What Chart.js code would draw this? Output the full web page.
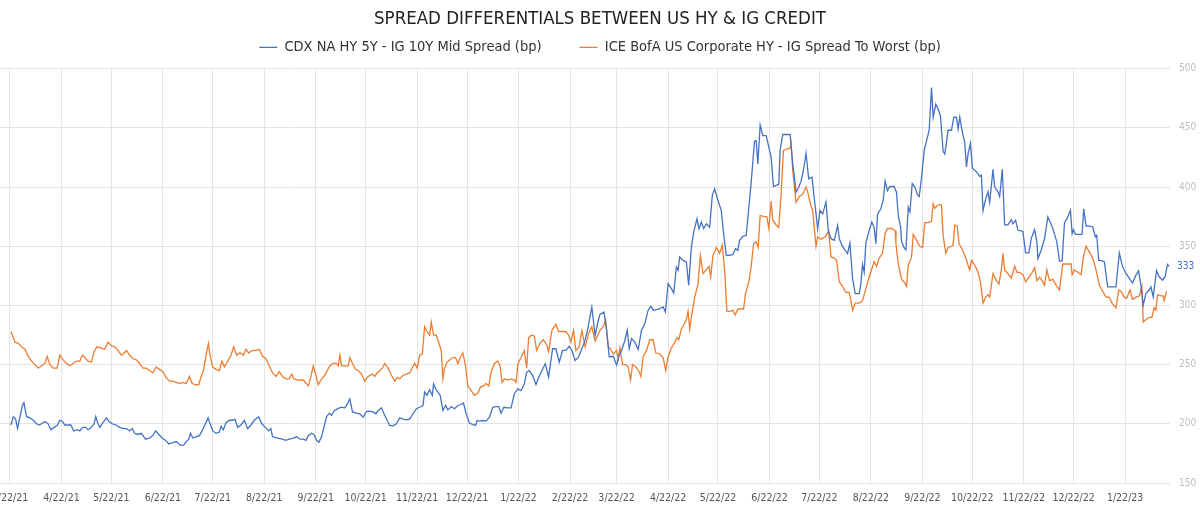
<!DOCTYPE html>
<html>
<head>
<meta charset="utf-8">
<title>Spread differentials between US HY & IG credit</title>
<script src="https://cdn.jsdelivr.net/npm/chart.js@4.4.1/dist/chart.umd.min.js"></script>
<style>
  html, body { margin: 0; padding: 0; background: #fff; }
  #wrap { position: relative; width: 1200px; height: 506px; }
</style>
</head>
<body>
<div id="wrap"><canvas id="spread-chart"></canvas></div>
<script>
// x values are days since 3/22/21
const tickDays = [0, 31, 61, 92, 122, 153, 184, 214, 245, 275, 306, 337, 365, 396, 426, 457, 487, 518, 549, 579, 610, 640, 671];
const tickLabels = ['3/22/21', '4/22/21', '5/22/21', '6/22/21', '7/22/21', '8/22/21', '9/22/21', '10/22/21', '11/22/21', '12/22/21',
    '1/22/22', '2/22/22', '3/22/22', '4/22/22', '5/22/22', '6/22/22', '7/22/22', '8/22/22', '9/22/22', '10/22/22', '11/22/22', '12/22/22', '1/22/23'];

// CDX NA HY 5Y - IG 10Y
const cdxDays = [
    0.6,2,3.4,4.6,6,7.4,8.4,10,12,14,
    16,17.6,19,21,23,24.6,26.6,28.6,30,31.6,
    33,35,36.6,38.4,40.4,42,43.6,45.6,47,49,
    50.6,51.6,53,54,56,58,59.6,61.6,64,66,
    68.4,70,72,73.6,75,77,79,81.6,84,86,
    87.6,89.6,91.6,93.6,95.6,97.6,100,102.4,104.6,106,
    107.6,108.6,110,112,114,115.6,117.6,119.2,120.4,122,
    124,126,127,128.4,130,132,134,135.4,137,139,
    141,143,145,147,149.6,151.6,153.6,155.6,157,158,
    161,164,166,168,
    170.5,172.5,174.5,176.5,178.1,179.5,181.5,182.9,184.5,185.9,
    187.5,188.9,190.5,192.1,193.5,195.1,197.5,199.5,201.5,203.1,
    204.5,206.1,208.5,210.5,212.5,214.5,216.5,218.5,220.1,221.5,
    223.5,225.5,228.5,230.5,232.5,234.5,236.5,238.5,240.5,242.5,
    244.5,246.5,248.5,249.5,250.9,252.5,254.1,254.9,256.1,257.5,
    258.9,260.5,262.1,263.5,265.5,267.5,269.5,271.5,272.9,274.5,
    276.5,278.5,280.1,281.1,282.5,284.5,286.5,288.5,290.5,292.5,
    294.1,295.5,297.1,299.5,301.5,303.5,305.5,307.5,309.5,310.9,
    312.5,314.5,316.5,318.1,320.1,322.1,324.1,326.5,328.5,330.5,
    332.5,334.5,336.5,338.1,340.1,342.1,344.1,345.7,347.5,350.1,
    352.1,354.1,
    355,357.4,359,360.6,363,365,366.6,368,370,371.4,
    372.6,374,376,378,380,382,384,385.6,387,389,
    391,393,394.4,396,398,399.4,401,402,403,405,
    407,408.4,410,411.4,413.4,414.6,416,417.4,419,421,
    422.6,424,426,428,429.4,431,433,435,436.6,438,
    439,441,443,444.6,446,448,449,450,451.4,453,
    455,456.6,458,459.4,461,462.6,463.4,465,467,469.4,
    471,473,474.6,476,477.4,479,480.6,482.6,484,486,
    487.4,489,491,492.4,494,496,498,499,500.6,502.6,
    504,505.4,507,508.6,511,512,513,514,515,517,
    518.6,520,521,522,524,525.4,526.6,528,529.4,532,
    533.4,
    534.5,535.9,536.5,537.9,539.1,540.5,541.5,542.9,544.5,545.9,
    547.1,548.5,550.1,551.5,553.1,554.5,555.5,557.1,558.5,559.9,
    561.5,562.5,564.5,566.5,567.9,569.5,570.5,571.5,573.1,574.5,
    575.5,576.5,577.9,579.1,581.5,583.5,584.5,585.5,587.1,588.5,
    589.5,591.5,592.5,594.5,595.5,597.1,598.5,600.5,602.5,603.5,
    605.1,606.5,608.5,609.5,611.1,613.1,614.5,616.5,617.9,618.5,
    620.5,622.5,624.5,625.9,627.5,629.9,631.5,633.1,634.5,636.5,
    638.1,639.1,639.9,641.1,643.1,645.1,646.1,647.5,649.5,651.5,
    653.1,653.9,655.1,656.5,658.5,660.5,662.5,665.5,667.5,669.5,
    671.5,673.5,675.5,677.5,679.1,680.5,681.9,683.5,685.5,686.5,
    687.9,689.9,691.5,693.5,695.1,696.5,697.5
];
const cdxBp = [
    199,206,204,196,206,215,218,206,205,203,
    200,199,200,202,200,195,197,199,203,202,
    199,199,199,194,195,194,197,197,195,197,
    200,206,200,197,201,205,202,200,199,197,
    196,196,194,196,192,191,192,187,188,190,
    194,191,188,186,183,184,185,182,182,185,
    187,192,188,189,190,194,200,205,200,194,
    192,193,198,195,201,203,203,204,197,199,
    203,196,199,203,206,200,197,194,196,189,
    188,187,186,187,
    188,189,187,187,186,190,192,191,186,184.5,
    189,197,206,209,207,211,213,214,213.5,217,
    221,210,209,208.5,205.6,210.4,210.7,210,208.5,211,
    213.5,207,198.6,198.3,200,205,204,203.4,204,208.5,
    212.7,214,215.5,226.8,224,228.7,224,233.8,229.6,226.8,
    224,211.3,215.5,211.8,214.6,212.7,215.5,216.3,217.5,208.5,
    200.6,199.4,198.6,202.8,202.3,202.8,202.3,205.6,214,214.6,
    214.6,209,214,213.5,213.5,225.4,229.6,228,233.8,243.7,
    245,240.8,233.2,239.4,245,250.7,239.4,263.4,263.4,252,
    262,262,265.4,262,253.5,256.3,263.4,269,278.9,298.6,
    274.6,287.9,
    292.5,294.5,279,256.5,257,249.5,258,262,270.6,279,
    263.5,272,269,262.7,279,284.6,296,299.3,296,296.4,
    297.3,298.7,294.5,318.4,314.2,310.5,332.5,329.7,341,338,
    336.7,317,349.3,362,373.2,364.8,370.4,364.8,369,366,
    393,398.5,388.7,380.3,360.6,342.3,342.3,343.1,348,346.5,
    355,358.3,359.2,383,404.2,438.8,439.3,419.6,452.5,443.5,
    443.5,433.7,425.3,400.5,401.4,402.2,431.4,444.4,444.4,444.4,
    419.6,395.7,399.9,405,414,428.6,407,408.4,390,364.8,
    380.3,377.4,387.3,363.4,356.4,355,367.6,356.4,350.7,346.5,
    343.7,352.7,322.6,310,310,318.4,334.7,328.2,352.7,363.4,
    370.4,365.6,352.1,376.9,381.7,388.7,405,397,400.5,400.5,
    395.7,
    376,366,354,349,347,383,379,403,400,394,
    392,408,431,439,448,484,459,470,466,460,
    430,428,448,448,459,459,449,459,446,438,
    417,428,437,416,413,409,410,380,390,396,
    387,415,400,396,392,415,368,368,372.5,369,
    372,363.5,363,362.6,344.4,344.4,356.5,364,353.7,339.6,
    346.6,356.5,374.7,370.5,364.9,353.7,337.4,337.4,369.7,374.7,
    380.3,360.7,364,360,360,360,381.7,367,367,366.3,
    358,359.3,338,338,336.8,315.7,315.7,315.7,344.4,332.6,
    327,322.8,319,325.6,329.3,317,300.3,310,313,315.7,
    307.3,329.3,324.2,321.3,324.7,334.6,333
];

// ICE BofA US Corporate HY - IG spread to worst
const iceDays = [
    0.6,2,3,5,7,9,11,13,15,17,
    19,21,22.4,24,26,28.4,30,32,34,36,
    38,40,42,43.6,45,47,49,50.6,52.4,55,
    57,59,61,63,65,67,69,70,72,74,
    76,78,80,82,84,86,88,90,92,94,
    96,98,100,102,104,106,108,109.6,112,113.6,
    115,116.4,118,119.4,120.4,122,124,126,127.6,129,
    131,133,134.6,136.4,138.4,140.4,142,143.6,146,148.4,
    150,152,154,156,158,160,162,164,166,168,
    169.5,170.9,173.5,176.5,179.5,180.9,182.5,184.1,185.5,187.5,
    189.5,190.9,192.5,194.5,196.5,197.5,198.5,199.5,201.5,203.5,
    204.5,206.1,207.9,209.5,211.5,213.5,214.9,216.5,218.1,219.5,
    220.9,222.5,224.1,225.5,227.5,229.5,231.5,232.9,234.5,236.5,
    238.5,240.5,241.9,243.5,245.1,246.5,248.1,249.5,250.9,252.5,
    253.5,254.9,256.5,258.1,259.5,260.5,261.5,262.9,264.5,266.5,
    268.1,269.5,270.9,272.5,274.1,275.5,277.5,279.5,281.5,283.1,
    284.9,286.5,288.1,289.5,291.5,293.5,294.9,296.1,297.5,299.5,
    301.5,303.5,304.5,305.7,307.5,309.5,310.9,312.1,314.1,315.5,
    316.9,318.9,320.9,322.9,324.1,326.1,328.5,330.1,332.1,334.5,
    336.1,337.5,339.1,340.5,342.5,344.1,346.1,348.1,350.1,352.1,
    354.1,
    355,357,358.4,360,361,363,365,366,367,368.6,
    370.6,372,373.4,374.6,376.6,378.6,379.6,381,383,385,
    387,388.6,391,393,394.6,396,398,400,401.4,402.4,
    404,406,407,408,409,410,412,414,415.4,417,
    419,420.6,421.6,423,425,427,428.6,430,431.4,433.4,
    435,436.4,438,440,441.4,442.6,444.6,446,447.4,449,
    450.2,451.4,454,455.4,456.6,458,459,461,462.6,464,
    465.4,467.4,469.4,470,471,473,475,477,479,480,
    481.4,483,485,486,488,490.6,492.6,494,496,497.4,
    499,501,503,505,506,507,508.6,511,513,515,
    517,518.6,520,521.4,523,525,526.6,528,530.6,532.6,
    533.1,534.5,536.5,538.5,539.5,540.5,542.5,543.5,545.5,547.5,
    549.1,550.5,552.5,554.5,555.5,556.5,558.5,560.5,561.5,563.1,
    564.5,566.5,567.5,568.5,569.9,571.1,573.1,575.1,576.5,577.5,
    578.5,580.5,582.5,583.9,585.5,587.1,588.5,589.5,591.5,593.5,
    595.1,596.5,597.5,598.5,600.5,602.5,604.5,605.9,607.5,609.5,
    611.1,613.1,615.1,616.5,617.9,619.5,621.1,622.5,623.9,625.5,
    627.5,629.5,631.5,633.5,636.5,638.5,639.1,640.5,642.5,644.5,
    645.9,647.5,649.5,651.5,653.5,655.5,657.5,659.5,661.5,663.1,
    665.5,667.1,668.5,670.5,671.9,673.9,675.5,677.5,679.5,681.1,
    681.9,683.5,685.5,687.1,688.5,689.5,690.5,692.5,693.9,694.5,
    695.9
];
const iceBp = [
    278,273,269,268,265,263,257,253,250,247,
    249,251,257,250,247,247,258,254,251,249,
    251,253,253,258,256,253,252,261,265,264,
    263,269,266,265,262,258,260,262,258,255,
    254,251,247,247,245,243,248,246,244,239,
    236,236,235,234,235,234,240,234,233,233,
    240,245,258,268,258,248,246,245,253,248,
    253,258,265,258,260,258,263,260,262,262,
    263,257,255,249,243,240,244,240,238,238,
    242,238,237,237,232,239,249,241,233,238,
    241,245,249,251,251,249,258,249,249,249,
    256,251,246,245,242,236,239,241,242,240,
    243,245,247,251,247,241,236,239,238,241,
    242,243,247,251,247,258,259,282,278,275,
    286,275,275,268,262,238,247,252,254,256,
    256,251,256,260,249,232,228,224,226,231,
    232,234,232,244,251,253,249,235,238,237,
    238,237,235,251,256,262,247,273,275,274,
    262,268,271,267,261,279,284,278,278,278,
    275,269,279,262,265,279,265,276,282,270,
    276,
    279,282,288,265,264,259,262,255,264,250,
    250,248,237,250,248,244,240,257,262,271,
    271,260,259,256,245,257,264,269,273,271,
    280,285,288,295,280,290,307,318,342,327,
    330,333,324,342,349,344,351,330,295,295,
    296,292,297,297,297,310,320,333,352,354,
    349,376,375,375,365,388,372,368,366,394,
    431,432,433,437,414,387,392,394,400,396,
    387,380,350,358,356,358,363,341,340,338,
    320,316,311,311,304,296,302,302,304,314,
    324,331,337,333,340,344,361,365,365,363,
    352,335,322,319,316,334,341,360,355,350,
    349,370,370,371,386,382,385,385,359,344,
    349,350,351,368,367,352,347,340,334,330,
    338,334,328,320,302,307,309,307,327,321,
    318,330,344,330,327,323,333,328,328,326,
    320,324,328,332,321,324,321,317,330,321,
    322,317,313,335,335,335,326,330,328,326,
    341,350,345,340,330,317,312,307,307,302,
    298,313,312,307,306,313,305,307,308,316,
    286,288,290,290,298,296,309,308,308,304,
    312
];

const FONT = "'Liberation Sans Narrow', 'DejaVu Sans Condensed', 'Roboto', sans-serif";
const BLUE = '#4472c4';
const ORANGE = '#ed7d31';
const LEGEND_ITEM_GAP = 38; // horizontal gap between legend entries
const LEGEND_V_PAD = 10;    // padding above the entries that we actually want

// value tag at the end of the blue line
const lastValueTag = {
    id: 'lastValueTag',
    afterDatasetsDraw(chart) {
        const meta = chart.getDatasetMeta(0);
        const pt = meta.data[meta.data.length - 1];
        if (!pt) return;
        const ctx = chart.ctx;
        ctx.save();
        ctx.font = '10px ' + FONT;
        ctx.fillStyle = BLUE;
        ctx.textAlign = 'left';
        ctx.textBaseline = 'middle';
        ctx.fillText(String(cdxBp[cdxBp.length - 1]), chart.chartArea.right + 7, pt.y);
        ctx.restore();
    }
};

// Chart.js uses labels.padding between entries and above them too;
// keep the wide horizontal gap but give back the vertical space
const legendSpacing = {
    id: 'legendSpacing',
    beforeInit(chart) {
        const legend = chart.legend;
        const extra = LEGEND_ITEM_GAP - LEGEND_V_PAD;
        const fit = legend.fit;
        legend.fit = function () {
            fit.call(this);
            this.height -= extra - 4;
        };
        const draw = legend.draw;
        legend.draw = function () {
            const top = this.top;
            this.top -= extra;
            draw.call(this);
            this.top = top;
        };
    }
};

const toPoints = (days, vals) => days.map((d, i) => ({ x: d, y: vals[i] }));

new Chart(document.getElementById('spread-chart'), {
    type: 'line',
    data: {
        datasets: [{
            label: 'CDX NA HY 5Y - IG 10Y Mid Spread (bp)',
            data: toPoints(cdxDays, cdxBp),
            borderColor: BLUE,
            backgroundColor: BLUE,
            borderWidth: 1.3,
            pointRadius: 0,
            tension: 0
        }, {
            label: 'ICE BofA US Corporate HY - IG Spread To Worst (bp)',
            data: toPoints(iceDays, iceBp),
            borderColor: ORANGE,
            backgroundColor: ORANGE,
            borderWidth: 1.3,
            pointRadius: 0,
            tension: 0
        }]
    },
    options: {
        responsive: true,
        maintainAspectRatio: false,
        animation: false,
        layout: { padding: 0 },
        plugins: {
            title: {
                display: true,
                text: 'SPREAD DIFFERENTIALS BETWEEN US HY & IG CREDIT',
                color: '#222',
                font: { family: FONT, size: 18.5, weight: 'normal' },
                padding: { top: 8, bottom: 0 }
            },
            legend: {
                position: 'top',
                labels: {
                    color: '#333',
                    font: { family: FONT, size: 14.5 },
                    usePointStyle: true,
                    pointStyleWidth: 18,
                    pointStyle: 'line',
                    padding: LEGEND_ITEM_GAP
                }
            },
            tooltip: { enabled: false }
        },
        scales: {
            x: {
                type: 'linear',
                min: -6,
                max: 698,
                border: { display: false },
                grid: { color: '#e4e4e4', drawTicks: false },
                afterBuildTicks(scale) {
                    scale.ticks = tickDays.map(v => ({ value: v }));
                },
                afterFit(scale) {
                    scale.paddingLeft = 0;
                    scale.paddingRight = 0;
                    scale.height = 23;
                },
                ticks: {
                    color: '#555',
                    font: { family: FONT, size: 10.5 },
                    padding: 9,
                    maxRotation: 0,
                    autoSkip: false,
                    callback(value) {
                        const i = tickDays.indexOf(value);
                        return i >= 0 ? tickLabels[i] : '';
                    }
                }
            },
            y: {
                position: 'right',
                min: 150,
                max: 500,
                border: { display: false },
                grid: { color: '#e4e4e4', drawTicks: false },
                afterFit(scale) { scale.width = 30; },
                ticks: {
                    stepSize: 50,
                    color: '#bdbdbd',
                    font: { family: FONT, size: 10 },
                    padding: 9
                }
            }
        }
    },
    plugins: [lastValueTag, legendSpacing]
});
</script>
</body>
</html>
